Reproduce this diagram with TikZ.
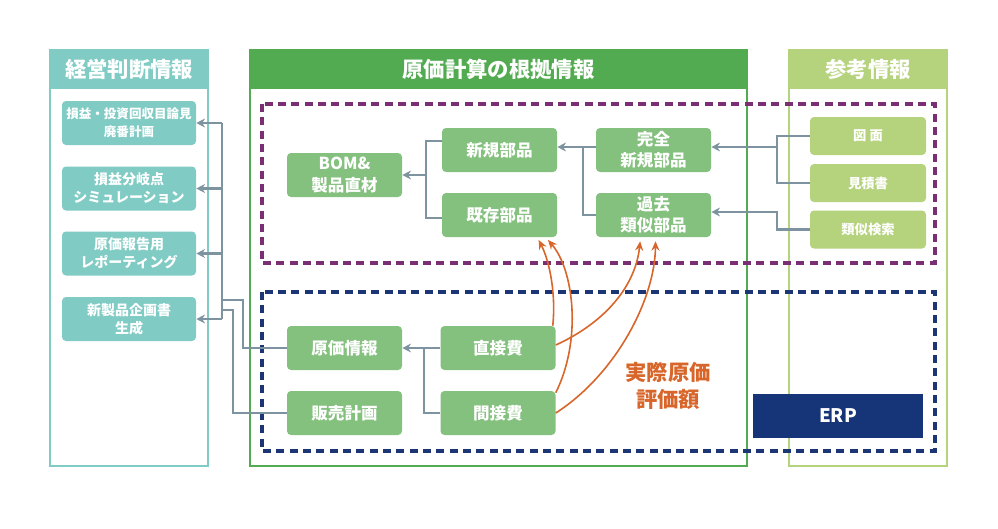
\documentclass[tikz,border=0pt]{standalone}
\usepackage{fontspec}
\setmainfont{Noto Sans CJK JP}
\usetikzlibrary{arrows.meta}
\definecolor{keieicol}{HTML}{80CBC4}
\definecolor{genkacol}{HTML}{52AB50}
\definecolor{sankocol}{HTML}{B5D27D}
\definecolor{partcol}{HTML}{84C07E}
\definecolor{linecol}{HTML}{7D93A0}
\definecolor{purplecol}{HTML}{7A2E74}
\definecolor{navycol}{HTML}{1C3675}
\definecolor{erpcol}{HTML}{163478}
\definecolor{orangecol}{HTML}{D8662A}
\begin{document}
\begin{tikzpicture}[x=0.75pt,y=-0.75pt,
  panel/.style={draw=#1, line width=1.5pt, minimum width=118.5pt, minimum height=312pt, inner sep=0pt},
  header/.style={fill=#1, text=white, font=\bfseries\fontsize{16}{20}\selectfont, minimum width=118.5pt, minimum height=30pt, inner sep=0pt, anchor=north},
  keieibox/.style={fill=keieicol, rounded corners=3pt, text=white, font=\bfseries\fontsize{10.5}{13.5}\selectfont, align=center, minimum width=100.5pt, minimum height=33pt, inner sep=0pt},
  partbox/.style={fill=partcol, rounded corners=3pt, text=white, font=\bfseries\fontsize{12.4}{16}\selectfont, align=center, minimum width=86.25pt, minimum height=33pt, inner sep=0pt},
  sankobox/.style={fill=sankocol, rounded corners=3pt, text=white, font=\bfseries\fontsize{10}{13}\selectfont, minimum width=87pt, minimum height=28.5pt, inner sep=0pt},
  gline/.style={draw=linecol, line width=1.6pt},
  garrow/.style={gline, -{Stealth[length=6.5pt,width=6.5pt]}},
  oarrow/.style={draw=orangecol, line width=1.2pt, -{Stealth[length=7pt,width=6pt]}},
  areabox/.style={draw=#1, line width=2.6pt, dash pattern=on 6pt off 4pt},
]
\fill[white] (0,0) rectangle (998,528);
\useasboundingbox (0,0) rectangle (998,528);
% panels
\node[panel=keieicol] (keiei) at (129,258) {};
\node[header=keieicol] (keieihead) at (keiei.north) {経営判断情報};
\node[panel=genkacol, minimum width=372.75pt] (genkapanel) at (498.5,258) {};
\node[header=genkacol, minimum width=372.75pt] (genkahead) at (genkapanel.north) {原価計算の根拠情報};
\node[panel=sankocol] (sanko) at (868,258) {};
\node[header=sankocol] (sankohead) at (sanko.north) {参考情報};
\draw[areabox=purplecol] (262,104) rectangle (935,263);
\draw[areabox=navycol] (262,292) rectangle (935,451);
% left column
\node[keieibox, font=\bfseries\fontsize{9.4}{13.5}\selectfont] (keiei1) at (129,123) {損益・投資回収目論見\\廃番計画};
\node[keieibox] (keiei2) at (129,188.5) {損益分岐点\\シミュレーション};
\node[keieibox] (keiei3) at (129,253.5) {原価報告用\\レポーティング};
\node[keieibox] (keiei4) at (129,319) {新製品企画書\\生成};
% middle column
\node[partbox] (bom) at (344.5,175) {BOM\&\\製品直材};
\node[partbox] (shinki) at (499.5,150) {新規部品};
\node[partbox] (kizon) at (499.5,215) {既存部品};
\node[partbox] (kanzen) at (653.5,150) {完全\\新規部品};
\node[partbox] (kako) at (653.5,215) {過去\\類似部品};
\node[partbox] (genka) at (344.5,348) {原価情報};
\node[partbox] (hanbai) at (344.5,413) {販売計画};
\node[partbox] (chokusetsu) at (498,348) {直接費};
\node[partbox] (kansetsu) at (498,413) {間接費};
\node[text=orangecol, font=\bfseries\fontsize{16}{20}\selectfont, align=center] (hyoka) at (668,386) {実際原価\\評価額};
% right column
\node[sankobox] (zumen) at (868,136) {図 面};
\node[sankobox] (mitsumori) at (868,183) {見積書};
\node[sankobox] (ruiji) at (868,229.5) {類似検索};
\node[fill=erpcol, text=white, font=\bfseries\fontsize{14}{16}\selectfont, minimum width=127.5pt, minimum height=33pt, inner sep=0pt] (erp) at (838,416) {ERP};
% gray connectors
\coordinate (bomjoin) at (426,175);
\draw[gline] ([yshift=6.75pt]shinki.west) -| (bomjoin);
\draw[gline] ([yshift=-2.25pt]kizon.west) -| (bomjoin);
\draw[garrow] (bomjoin) -- (bom.east);
\coordinate (kanjoin) at (583,147);
\draw[gline] (kako.west) -| (kanjoin);
\draw[garrow] ([yshift=2.25pt]kanzen.west) -- ([yshift=2.25pt]shinki.east);
\coordinate (zujoin) at (777,147);
\draw[gline] (zumen.west) -| (zujoin);
\draw[gline] (mitsumori.west) -| (zujoin);
\draw[garrow] (zujoin) -- ([yshift=2.25pt]kanzen.east);
\coordinate (ruijoin) at (777,212);
\draw[garrow] (ruiji.west) -| (ruijoin) -- ([yshift=2.25pt]kako.east);
\coordinate (hijoin) at (424,348);
\draw[gline] (kansetsu.west) -| (hijoin);
\draw[garrow] (chokusetsu.west) -- (genka.east);
\coordinate (bustop) at (222,123);
\coordinate (busbottom) at (222,319);
\draw[gline] (bustop) -- (busbottom);
\foreach \i in {1,...,4}
  \draw[garrow] (keiei\i.east -| bustop) -- (keiei\i.east);
\coordinate (genkabend) at (243,300);
\coordinate (genkabus) at (222,300);
\draw[gline] (genka.west) -| (genkabend) -- (genkabus);
\coordinate (hanbaibend) at (233,310);
\coordinate (hanbaibus) at (222,310);
\draw[gline] (hanbai.west) -| (hanbaibend) -- (hanbaibus);
% orange curves
\draw[oarrow] ([xshift=-2.25pt]chokusetsu.north east) .. controls (556,295) and (550,262) .. ([xshift=-14pt,yshift=-2pt]kizon.south east);
\draw[oarrow] ([yshift=-1.5pt]kansetsu.north east) .. controls (582,340) and (574,270) .. ([xshift=-7pt,yshift=-2pt]kizon.south east);
\draw[oarrow] ([yshift=2.25pt]chokusetsu.east) .. controls (600,325) and (635,290) .. ([xshift=-10pt,yshift=-3pt]kako.south);
\draw[oarrow] (kansetsu.east) .. controls (615,375) and (655,300) .. ([xshift=1.5pt,yshift=-3pt]kako.south);
\end{tikzpicture}
\end{document}
